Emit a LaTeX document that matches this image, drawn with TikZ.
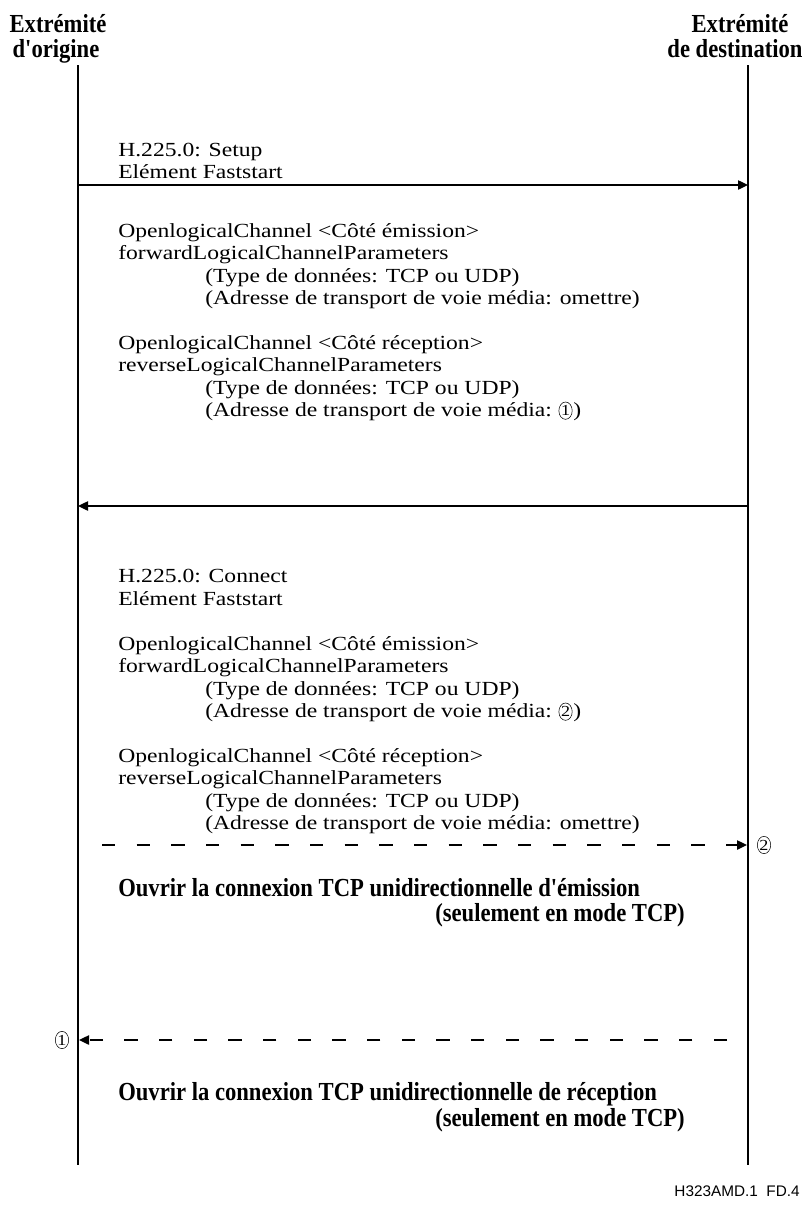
\documentclass[tikz,border=0pt]{standalone}
\usepackage{fontspec}
\setmainfont[FakeStretch=1.18]{Liberation Serif}
\newfontfamily\hdrfont[FakeStretch=0.87]{Liberation Serif}
\newfontfamily\labelfont{Liberation Sans}
\usetikzlibrary{arrows.meta,shapes.geometric}
\begin{document}
\begin{tikzpicture}[x=0.75pt,y=-0.75pt,
  txt/.style={anchor=base west,inner sep=0pt,font=\fontsize{15}{17}\selectfont},
  hdr/.style={anchor=base,inner sep=0pt,font=\hdrfont\fontsize{19.5}{22}\selectfont\bfseries},
  boldtxt/.style={inner sep=0pt,font=\hdrfont\fontsize{19.5}{22}\selectfont\bfseries},
  life/.style={line width=0.8pt},
  msg/.style={line width=1pt,-{Triangle[length=7.5pt,width=7pt]}},
  dmsg/.style={msg,dash pattern=on 10pt off 16pt},
  circnum/.style={draw,ellipse,inner sep=0pt,minimum width=10pt,minimum height=13pt,line width=0.4pt,font=\fontsize{11.5}{12}\selectfont}]
\useasboundingbox (0,0) rectangle (805,1207);
% headers
\node[hdr] (h1) at (58,32) {Extrémité};
\node[hdr] (h2) at (56,57) {d'origine};
\node[hdr] (h3) at (740,32) {Extrémité};
\node[hdr] (h4) at (735,57) {de destination};
% lifelines
\coordinate (Ltop) at (78,65);
\coordinate (Lbot) at (78,1165);
\coordinate (Rtop) at (748,65);
\coordinate (Rbot) at (748,1165);
\draw[life] (Ltop) -- (Lbot);
\draw[life] (Rtop) -- (Rbot);
% Setup block
\node[txt] (t1) at (118,156) {H.225.0: Setup};
\node[txt] (t2) at (118,178) {Elément Faststart};
\coordinate (m1s) at (78,185);
\coordinate (m1e) at (748,185);
\draw[msg] (m1s) -- (m1e);
\node[txt] (t3) at (118,237) {OpenlogicalChannel <Côté émission>};
\node[txt] (t4) at (118,259) {forwardLogicalChannelParameters};
\node[txt] (t5) at (205,282) {(Type de données: TCP ou UDP)};
\node[txt] (t6) at (205,304) {(Adresse de transport de voie média: omettre)};
\node[txt] (t7) at (118,349) {OpenlogicalChannel <Côté réception>};
\node[txt] (t8) at (118,371) {reverseLogicalChannelParameters};
\node[txt] (t9) at (205,394) {(Type de données: TCP ou UDP)};
\node[txt] (t10) at (205,416) {(Adresse de transport de voie média:};
\node[circnum] (c10) at ([xshift=10pt,yshift=4pt]t10.base east) {1};
\node[txt] (p10) at ([xshift=0.5pt]c10.east |- t10.base) {)};
% back arrow
\coordinate (m2s) at (748,506);
\coordinate (m2e) at (78,506);
\draw[msg] (m2s) -- (m2e);
% Connect block
\node[txt] (u1) at (118,582) {H.225.0: Connect};
\node[txt] (u2) at (118,605) {Elément Faststart};
\node[txt] (u3) at (118,650) {OpenlogicalChannel <Côté émission>};
\node[txt] (u4) at (118,672) {forwardLogicalChannelParameters};
\node[txt] (u5) at (205,695) {(Type de données: TCP ou UDP)};
\node[txt] (u6) at (205,717) {(Adresse de transport de voie média:};
\node[circnum] (c6) at ([xshift=10pt,yshift=4pt]u6.base east) {2};
\node[txt] (p6) at ([xshift=0.5pt]c6.east |- u6.base) {)};
\node[txt] (u7) at (118,762) {OpenlogicalChannel <Côté réception>};
\node[txt] (u8) at (118,784) {reverseLogicalChannelParameters};
\node[txt] (u9) at (205,807) {(Type de données: TCP ou UDP)};
\node[txt] (u10) at (205,829) {(Adresse de transport de voie média: omettre)};
% dashed arrow 1
\coordinate (d1s) at (102,845);
\coordinate (d1e) at (747,845);
\draw[dmsg] (d1s) -- (d1e);
\node[circnum] (n2) at (764,845) {2};
\node[boldtxt,anchor=base west] (b1) at (118,896) {Ouvrir la connexion TCP unidirectionnelle d'émission};
\node[boldtxt,anchor=base east] (b2) at (685,921) {(seulement en mode TCP)};
% dashed arrow 2
\coordinate (d2s) at (727,1040);
\coordinate (d2e) at (79,1040);
\draw[dmsg] (d2s) -- (d2e);
\node[circnum] (n1) at (62,1040) {1};
\node[boldtxt,anchor=base west] (b3) at (118,1100) {Ouvrir la connexion TCP unidirectionnelle de réception};
\node[boldtxt,anchor=base east] (b4) at (685,1126) {(seulement en mode TCP)};
% figure label
\node[anchor=base east,inner sep=0pt,font=\labelfont\fontsize{11.5}{13}\selectfont] (lab) at (800,1196) {H323AMD.1\ \ FD.4};
\end{tikzpicture}
\end{document}
